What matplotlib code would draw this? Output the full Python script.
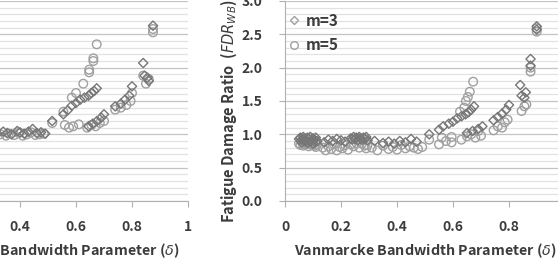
import matplotlib.pyplot as plt
from matplotlib.ticker import MultipleLocator
from matplotlib.lines import Line2D

plt.rcParams['font.family'] = ['Noto Sans CJK KR', 'DejaVu Sans']

# ---- data ----
# right panel, m=3 (diamonds)
right_m3_x = [0.05, 0.055, 0.06, 0.065, 0.07, 0.075, 0.08, 0.085, 0.09, 0.095, 0.1, 0.105, 0.11, 0.115,
              0.06, 0.07, 0.08, 0.09, 0.1, 0.11,
              0.14, 0.155, 0.17, 0.185, 0.2, 0.215,
              0.235, 0.24, 0.245, 0.25, 0.255, 0.26, 0.265, 0.27, 0.275, 0.28, 0.285, 0.29, 0.295,
              0.32, 0.35, 0.37, 0.39, 0.41, 0.43, 0.45, 0.47,
              0.515, 0.55, 0.565, 0.585, 0.6, 0.615, 0.63, 0.645, 0.655, 0.665, 0.675,
              0.65, 0.67, 0.69, 0.705,
              0.745, 0.76, 0.775, 0.79, 0.80,
              0.84, 0.845, 0.855, 0.86,
              0.877, 0.877, 0.899, 0.899]
right_m3_y = [0.93, 0.95, 0.92, 0.96, 0.94, 0.90, 0.95, 0.93, 0.96, 0.91, 0.94, 0.92, 0.95, 0.90,
              0.88, 0.90, 0.87, 0.89, 0.86, 0.88,
              0.88, 0.92, 0.90, 0.93, 0.91, 0.89,
              0.94, 0.92, 0.96, 0.93, 0.95, 0.91, 0.96, 0.94, 0.92, 0.95, 0.93, 0.96, 0.91,
              0.90, 0.87, 0.89, 0.86, 0.90, 0.88, 0.93, 0.89,
              1.00, 1.07, 1.12, 1.16, 1.19, 1.24, 1.27, 1.30, 1.33, 1.37, 1.42,
              1.02, 1.05, 1.08, 1.12,
              1.21, 1.26, 1.31, 1.37, 1.44,
              1.74, 1.58, 1.55, 1.63,
              2.13, 2.03, 2.62, 2.57]

# right panel, m=5 (circles)
right_m5_x = [0.05, 0.055, 0.06, 0.065, 0.07, 0.075, 0.08, 0.085, 0.09, 0.095, 0.1, 0.105, 0.11, 0.115,
              0.135, 0.145, 0.155, 0.165, 0.175, 0.185, 0.195, 0.205, 0.215, 0.225,
              0.235, 0.245, 0.255, 0.265, 0.275, 0.285, 0.29, 0.295,
              0.31, 0.33, 0.35, 0.37, 0.385, 0.40, 0.415, 0.43, 0.445, 0.46, 0.475, 0.49,
              0.515, 0.55, 0.56, 0.575, 0.595, 0.595, 0.625, 0.64, 0.646, 0.653, 0.66, 0.672,
              0.63, 0.65, 0.665, 0.68, 0.69, 0.70,
              0.745, 0.76, 0.775, 0.785, 0.795,
              0.845, 0.855, 0.862,
              0.877, 0.877, 0.899, 0.899]
right_m5_y = [0.86, 0.84, 0.88, 0.83, 0.87, 0.85, 0.89, 0.82, 0.86, 0.84, 0.88, 0.83, 0.81, 0.85,
              0.80, 0.76, 0.82, 0.78, 0.85, 0.76, 0.81, 0.79, 0.84, 0.77,
              0.85, 0.82, 0.87, 0.80, 0.86, 0.83, 0.79, 0.84,
              0.80, 0.76, 0.83, 0.78, 0.81, 0.77, 0.84, 0.79, 0.82, 0.80, 0.78, 0.81,
              0.92, 0.85, 0.95, 0.90, 0.88, 0.96, 1.34, 1.40, 1.50, 1.56, 1.64, 1.79,
              0.92, 0.97, 1.00, 0.95, 1.05, 0.98,
              1.06, 1.12, 1.10, 1.18, 1.22,
              1.35, 1.42, 1.45,
              1.94, 2.00, 2.54, 2.59]

# left panel, m=3 (diamonds)
left_m3_x = [0.30, 0.32, 0.34, 0.355, 0.37, 0.39, 0.40, 0.415, 0.43, 0.445, 0.46, 0.475, 0.49,
             0.515, 0.555, 0.57, 0.585, 0.60, 0.615, 0.63, 0.645, 0.655, 0.665, 0.674,
             0.645, 0.66, 0.675, 0.69, 0.70,
             0.74, 0.76, 0.775, 0.79, 0.80,
             0.84, 0.845, 0.855, 0.86, 0.875]
left_m3_y = [1.03, 1.01, 1.04, 1.02, 1.00, 1.05, 1.03, 1.01, 1.04, 1.08, 1.02, 1.03, 1.01,
             1.20, 1.30, 1.36, 1.43, 1.47, 1.52, 1.55, 1.58, 1.62, 1.65, 1.69,
             1.12, 1.16, 1.20, 1.25, 1.30,
             1.42, 1.46, 1.52, 1.58, 1.72,
             2.07, 1.88, 1.85, 1.80, 2.63]

# left panel, m=5 (circles)
left_m5_x = [0.31, 0.33, 0.35, 0.36, 0.38, 0.395, 0.41, 0.425, 0.44, 0.455, 0.47, 0.485,
             0.515, 0.555, 0.56, 0.575, 0.585, 0.59, 0.60, 0.61, 0.626, 0.647, 0.647, 0.662, 0.662, 0.674,
             0.64, 0.655, 0.67, 0.685, 0.70,
             0.74, 0.76, 0.78, 0.795, 0.80,
             0.84, 0.85, 0.86, 0.875, 0.875]
left_m5_y = [0.99, 1.00, 0.98, 1.01, 0.99, 1.02, 0.98, 1.00, 1.03, 0.99, 1.00, 1.01,
             1.17, 1.34, 1.14, 1.10, 1.55, 1.12, 1.62, 1.15, 1.76, 1.97, 1.93, 2.14, 2.10, 2.35,
             1.10, 1.14, 1.12, 1.17, 1.20,
             1.37, 1.40, 1.44, 1.50, 1.62,
             1.88, 1.76, 1.83, 2.53, 2.58]

xticks = [0, 0.2, 0.4, 0.6, 0.8, 1.0]
xticklabels = ['0', '0.2', '0.4', '0.6', '0.8', '1']
yticks = [0.0, 0.5, 1.0, 1.5, 2.0, 2.5, 3.0]

TXT = '#3c3c3c'
C3 = '#777777'
C5 = '#a0a0a0'

W, H = 558, 263
fig = plt.figure(figsize=(W / 100, H / 100), dpi=100)
axL = fig.add_axes([-92 / W, 62 / H, 280 / W, 200 / H])
axR = fig.add_axes([285 / W, 62 / H, 280 / W, 200 / H])


def style(ax):
    ax.set_xlim(0, 1)
    ax.set_ylim(0, 3)
    ax.set_xticks(xticks)
    ax.set_xticklabels(xticklabels)
    ax.set_yticks(yticks)
    ax.set_yticklabels([f'{v:.1f}' for v in yticks])
    ax.yaxis.set_minor_locator(MultipleLocator(0.1))
    ax.grid(axis='y', which='major', color='#c4c4c4', lw=0.9)
    ax.grid(axis='y', which='minor', color='#e2e2e2', lw=0.9)
    ax.set_axisbelow(True)
    for s in ['top', 'right']:
        ax.spines[s].set_visible(False)
    for s in ['left', 'bottom']:
        ax.spines[s].set_color('#b0b0b0')
    ax.tick_params(axis='both', which='major', length=4, color='#b0b0b0',
                   labelcolor=TXT, labelsize=10)
    ax.tick_params(axis='y', which='minor', length=0)
    ax.tick_params(axis='x', pad=10)
    ax.tick_params(axis='y', pad=12)
    for lab in ax.get_xticklabels() + ax.get_yticklabels():
        lab.set_fontweight('bold')
    ax.set_xlabel(r'Vanmarcke Bandwidth Parameter ($\delta$)', fontsize=10.3,
                  fontweight='bold', color=TXT, labelpad=5)


for ax, (x3, y3, x5, y5) in [(axL, (left_m3_x, left_m3_y, left_m5_x, left_m5_y)),
                             (axR, (right_m3_x, right_m3_y, right_m5_x, right_m5_y))]:
    style(ax)
    ax.scatter(x5, y5, s=38, marker='o', facecolors='none', edgecolors=C5, linewidths=1.0)
    ax.scatter(x3, y3, s=22, marker='D', facecolors='none', edgecolors=C3, linewidths=1.0)

axR.set_ylabel(r'Fatigue Damage Ratio  ($\mathit{FDR}_{\mathit{WB}}$)', fontsize=10.5,
               fontweight='bold', color=TXT)
axR.yaxis.set_label_coords(-0.165, 0.45)

handles = [Line2D([], [], ls='none', marker='D', ms=4, mfc='none', mec=C5, mew=1.0),
           Line2D([], [], ls='none', marker='o', ms=5.5, mfc='none', mec=C5, mew=1.0)]
leg = axR.legend(handles, ['m=3', 'm=5'], loc='upper left', bbox_to_anchor=(-0.04, 1.01),
                 frameon=False, handlelength=0.8, handletextpad=0.4, labelspacing=0.55,
                 prop={'size': 11, 'weight': 'bold'})
for t in leg.get_texts():
    t.set_color(TXT)

fig.savefig('out.png', dpi=100)
